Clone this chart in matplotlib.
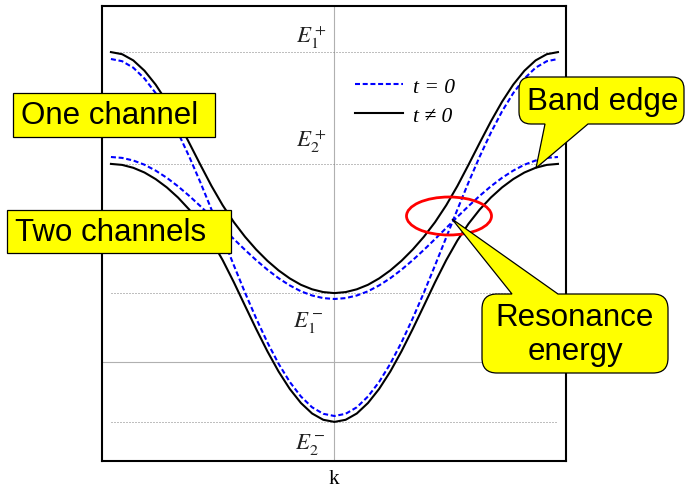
import numpy as np
import matplotlib
matplotlib.use('Agg')
import matplotlib.pyplot as plt
from matplotlib.path import Path
from matplotlib.patches import PathPatch, Ellipse
from matplotlib.transforms import Affine2D

plt.rcParams['mathtext.fontset'] = 'stix'

# wave vector samples across the zone
k = np.linspace(-1, 1, 41)

# uncoupled bands (t = 0)
band_a_t0 = [4.020, 3.998, 3.933, 3.825, 3.679, 3.497, 3.284, 3.045, 2.787, 2.514, 2.235,
             1.956, 1.683, 1.425, 1.186, 0.973, 0.791, 0.645, 0.537, 0.472, 0.450,
             0.472, 0.537, 0.645, 0.791, 0.973, 1.186, 1.425, 1.683, 1.956, 2.235,
             2.514, 2.787, 3.045, 3.284, 3.497, 3.679, 3.825, 3.933, 3.998, 4.020]
band_b_t0 = [3.040, 3.031, 3.005, 2.963, 2.904, 2.832, 2.747, 2.652, 2.549, 2.441, 2.330,
             2.219, 2.111, 2.008, 1.913, 1.828, 1.756, 1.697, 1.655, 1.629, 1.620,
             1.629, 1.655, 1.697, 1.756, 1.828, 1.913, 2.008, 2.111, 2.219, 2.330,
             2.441, 2.549, 2.652, 2.747, 2.832, 2.904, 2.963, 3.005, 3.031, 3.040]

# coupled bands (t != 0), anticrossing at the resonance
upper_t = [4.089, 4.068, 4.006, 3.903, 3.764, 3.593, 3.396, 3.182, 2.963, 2.750, 2.557,
           2.388, 2.242, 2.114, 2.002, 1.906, 1.826, 1.762, 1.717, 1.689, 1.679,
           1.689, 1.717, 1.762, 1.826, 1.906, 2.002, 2.114, 2.242, 2.388, 2.557,
           2.750, 2.963, 3.182, 3.396, 3.593, 3.764, 3.903, 4.006, 4.068, 4.089]
lower_t = [2.971, 2.961, 2.932, 2.885, 2.819, 2.736, 2.635, 2.515, 2.373, 2.205, 2.008,
           1.787, 1.552, 1.319, 1.097, 0.895, 0.721, 0.580, 0.475, 0.412, 0.391,
           0.412, 0.475, 0.580, 0.721, 0.895, 1.097, 1.319, 1.552, 1.787, 2.008,
           2.205, 2.373, 2.515, 2.635, 2.736, 2.819, 2.885, 2.932, 2.961, 2.971]

# band edges
levels = [4.09, 2.97, 1.68, 0.39]
level_labels = [r'$E_1^+$', r'$E_2^+$', r'$E_1^-$', r'$E_2^-$']
label_offsets = [(-8, 10), (-8, 18), (-11, -33), (-9, -26)]
e_ref = 0.99

W, H = 685, 489
fig = plt.figure(figsize=(W / 100, H / 100), dpi=100)
ax = fig.add_axes([102 / W, (H - 462) / H, 464 / W, 455 / H])
# pixel coordinates measured from the top-left corner of the figure
px = Affine2D().scale(1 / W, -1 / H).translate(0, 1) + fig.transFigure

ax.set_xlim(-1.04, 1.036)
ax.set_ylim(0, 4.55)
ax.set_xticks([])
ax.set_yticks([])
for s in ax.spines.values():
    s.set_linewidth(1.5)

ax.axvline(0, color='#b0b0b0', lw=0.8, zorder=1)
ax.axhline(e_ref, color='#b0b0b0', lw=0.8, zorder=1)
for lev, lab, off in zip(levels, level_labels, label_offsets):
    ax.hlines(lev, -1, 1, color='#808080', lw=0.72, linestyles=(0, (1, 2)), zorder=1)
    ax.annotate(lab, xy=(0, lev), xytext=off, textcoords='offset pixels',
                ha='right', va='baseline', fontsize=16.5, color='#222222')

solid, = ax.plot(k, upper_t, color='black', lw=1.5, zorder=3)
ax.plot(k, lower_t, color='black', lw=1.5, zorder=3)
dashed, = ax.plot(k, band_a_t0, color='#0000ff', lw=1.5, ls=(0, (2.4, 1.3)), zorder=4)
ax.plot(k, band_b_t0, color='#0000ff', lw=1.5, ls=(0, (2.4, 1.3)), zorder=4)

ax.legend([dashed, solid], ['t = 0', 't \u2260 0'], loc='upper left',
          bbox_to_anchor=(0.545, 0.845), frameon=False, borderpad=0, borderaxespad=0,
          handlelength=2.25, handletextpad=0.45, labelspacing=0.42,
          prop={'family': ['Liberation Serif', 'DejaVu Serif'], 'style': 'italic', 'size': 15.5})

ax.set_xlabel('k', family='Liberation Serif', fontsize=15, labelpad=6)


def callout(x0, y0, x1, y1, r=0, side=None, base=None, tip=None):
    verts, codes = [(x0 + r, y0)], [Path.MOVETO]

    def line(p):
        verts.append(p)
        codes.append(Path.LINETO)

    def corner(c, p):
        if r:
            verts.extend([c, p])
            codes.extend([Path.CURVE3, Path.CURVE3])

    if side == 'top':
        line((base[0], y0)); line(tip); line((base[1], y0))
    line((x1 - r, y0))
    corner((x1, y0), (x1, y0 + r))
    line((x1, y1 - r))
    corner((x1, y1), (x1 - r, y1))
    if side == 'bottom':
        line((base[1], y1)); line(tip); line((base[0], y1))
    line((x0 + r, y1))
    corner((x0, y1), (x0, y1 - r))
    line((x0, y0 + r))
    corner((x0, y0), (x0 + r, y0))
    verts.append((x0 + r, y0))
    codes.append(Path.CLOSEPOLY)
    fig.add_artist(PathPatch(Path(verts, codes), fc='#ffff00', ec='black', lw=0.9,
                             transform=px, zorder=10))


txt = dict(family=['Liberation Sans', 'DejaVu Sans'], fontsize=22.5, transform=px,
           zorder=11, va='center')

fig.add_artist(Ellipse((449, 217), 85, 38, transform=px, fill=False, ec='#ff0000',
                       lw=2, zorder=9))

callout(12.7, 94.3, 215, 137.7)
fig.text(20.7, 116.5, 'One channel', ha='left', **txt)

callout(7.3, 211, 231, 254.3)
fig.text(15, 233, 'Two channels', ha='left', **txt)

callout(519, 78, 684, 125, r=12, side='bottom', base=(545, 588), tip=(536, 169))
fig.text(527, 102, 'Band edge', ha='left', **txt)

callout(482, 295, 668, 374, r=15, side='top', base=(512, 558), tip=(452, 220))
fig.text(575, 318, 'Resonance', ha='center', **txt)
fig.text(575, 352, 'energy', ha='center', **txt)

fig.savefig('out.png', dpi=100)
